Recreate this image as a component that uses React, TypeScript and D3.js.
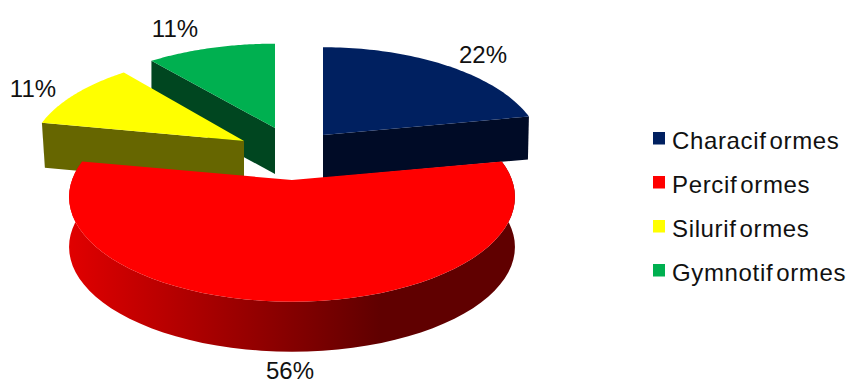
import React from "react";
import * as d3 from "d3";

// Fish orders and their share of species, in percent
const orders = ["Characiformes", "Perciformes", "Siluriformes", "Gymnotiformes"];
const shares = [22, 56, 11, 11];
const topColors = ["#002060", "#ff0000", "#ffff00", "#00b050"];
const wallColors = ["#000b26", "url(#redWall)", "#666600", "#004620"];

const WIDTH = 853;
const HEIGHT = 381;
const TILT = 0.162; // strength of the perspective foreshortening

// Where each exploded wedge sits: apex, radii of its disc, extrusion depth,
// and how far the lower edge of a cut wall pulls in towards the apex
const wedgeLayout = [
  { cx: 323, cy: 135, rx: 216, ry: 102, depth: 43, inset: 1 },
  { cx: 292, cy: 180, rx: 220, ry: 102, depth: 50, inset: 0 },
  { cx: 244, cy: 141, rx: 212, ry: 100, depth: 45, inset: 3 },
  { cx: 275, cy: 128, rx: 218, ry: 98, depth: 46, inset: 0 },
];
// Label anchors, kept in the same order as the wedges
const labelAnchors = [
  { x: 483, y: 63 },
  { x: 290, y: 379 },
  { x: 33, y: 97 },
  { x: 175, y: 37 },
];
const legendX = 653;
const legendRows = [132, 176, 220, 264];

type Pt = [number, number];

// Projects a point on the rim of the disc onto the screen
function rim(w: (typeof wedgeLayout)[number], angle: number): Pt {
  const s = 1 / (1 + TILT * Math.cos(angle));
  return [w.cx + w.rx * Math.sin(angle) * s, w.cy - w.ry * Math.cos(angle) * s];
}

const pieLayout = d3
  .pie<number>()
  .sort(null)
  .startAngle(0)
  .endAngle(2 * Math.PI);

const linePath = d3.line<Pt>();

export default function App() {
  const arcs = pieLayout(shares);

  const wedges = arcs.map((a, i) => {
    const w = wedgeLayout[i];
    const rimPts = d3
      .range(0, 61)
      .map((k) => rim(w, a.startAngle + ((a.endAngle - a.startAngle) * k) / 60));
    const apex: Pt = [w.cx, w.cy];
    const drop = (p: Pt): Pt => [p[0], p[1] + w.depth];
    const top = linePath([apex, ...rimPts])! + "Z";

    // Front wedge shows its curved rim, the others the radial cut facing the viewer
    let wall: string;
    if (i === 1) {
      wall = linePath([...rimPts, ...rimPts.map(drop).reverse()])! + "Z";
    } else {
      const tip = i === 0 ? rimPts[rimPts.length - 1] : rimPts[0];
      const lowTip = drop(tip);
      lowTip[0] += tip[0] < w.cx ? w.inset : -w.inset;
      wall = linePath([apex, tip, lowTip, drop(apex)])! + "Z";
    }
    return { top, wall };
  });

  // Painter's order: back wedges first, the large front wedge last
  const paintOrder = [3, 0, 2, 1];

  return (
    <svg
      width={WIDTH}
      height={HEIGHT}
      viewBox={`0 0 ${WIDTH} ${HEIGHT}`}
      style={{ position: "absolute", left: 0, top: 0, display: "block", background: "#fff" }}
      fontFamily="'Liberation Sans', Arial, sans-serif"
    >
      <defs>
        <linearGradient id="redWall" gradientUnits="userSpaceOnUse" x1={70} x2={380} y1={0} y2={0}>
          <stop offset="0" stopColor="#e00000" />
          <stop offset="1" stopColor="#600000" />
        </linearGradient>
      </defs>

      {paintOrder.map((idx) => (
        <g key={orders[idx]}>
          <path d={wedges[idx].wall} fill={wallColors[idx]} />
          <path d={wedges[idx].top} fill={topColors[idx]} />
        </g>
      ))}

      {shares.map((v, i) => (
        <text key={i} x={labelAnchors[i].x} y={labelAnchors[i].y} fontSize={24} textAnchor="middle" fill="#111">
          {v}%
        </text>
      ))}

      {orders.map((name, i) => {
        const cut = name.indexOf("f");
        return (
          <g key={name}>
            <rect x={legendX} y={legendRows[i]} width={12} height={12.5} fill={topColors[i]} />
            <text
              x={legendX + 19}
              y={legendRows[i] + 16.5}
              fontSize={24}
              letterSpacing={0.65}
              fill="#111"
            >
              {name.slice(0, cut + 1)}
              <tspan dx={3}>{name.slice(cut + 1)}</tspan>
            </text>
          </g>
        );
      })}
    </svg>
  );
}
